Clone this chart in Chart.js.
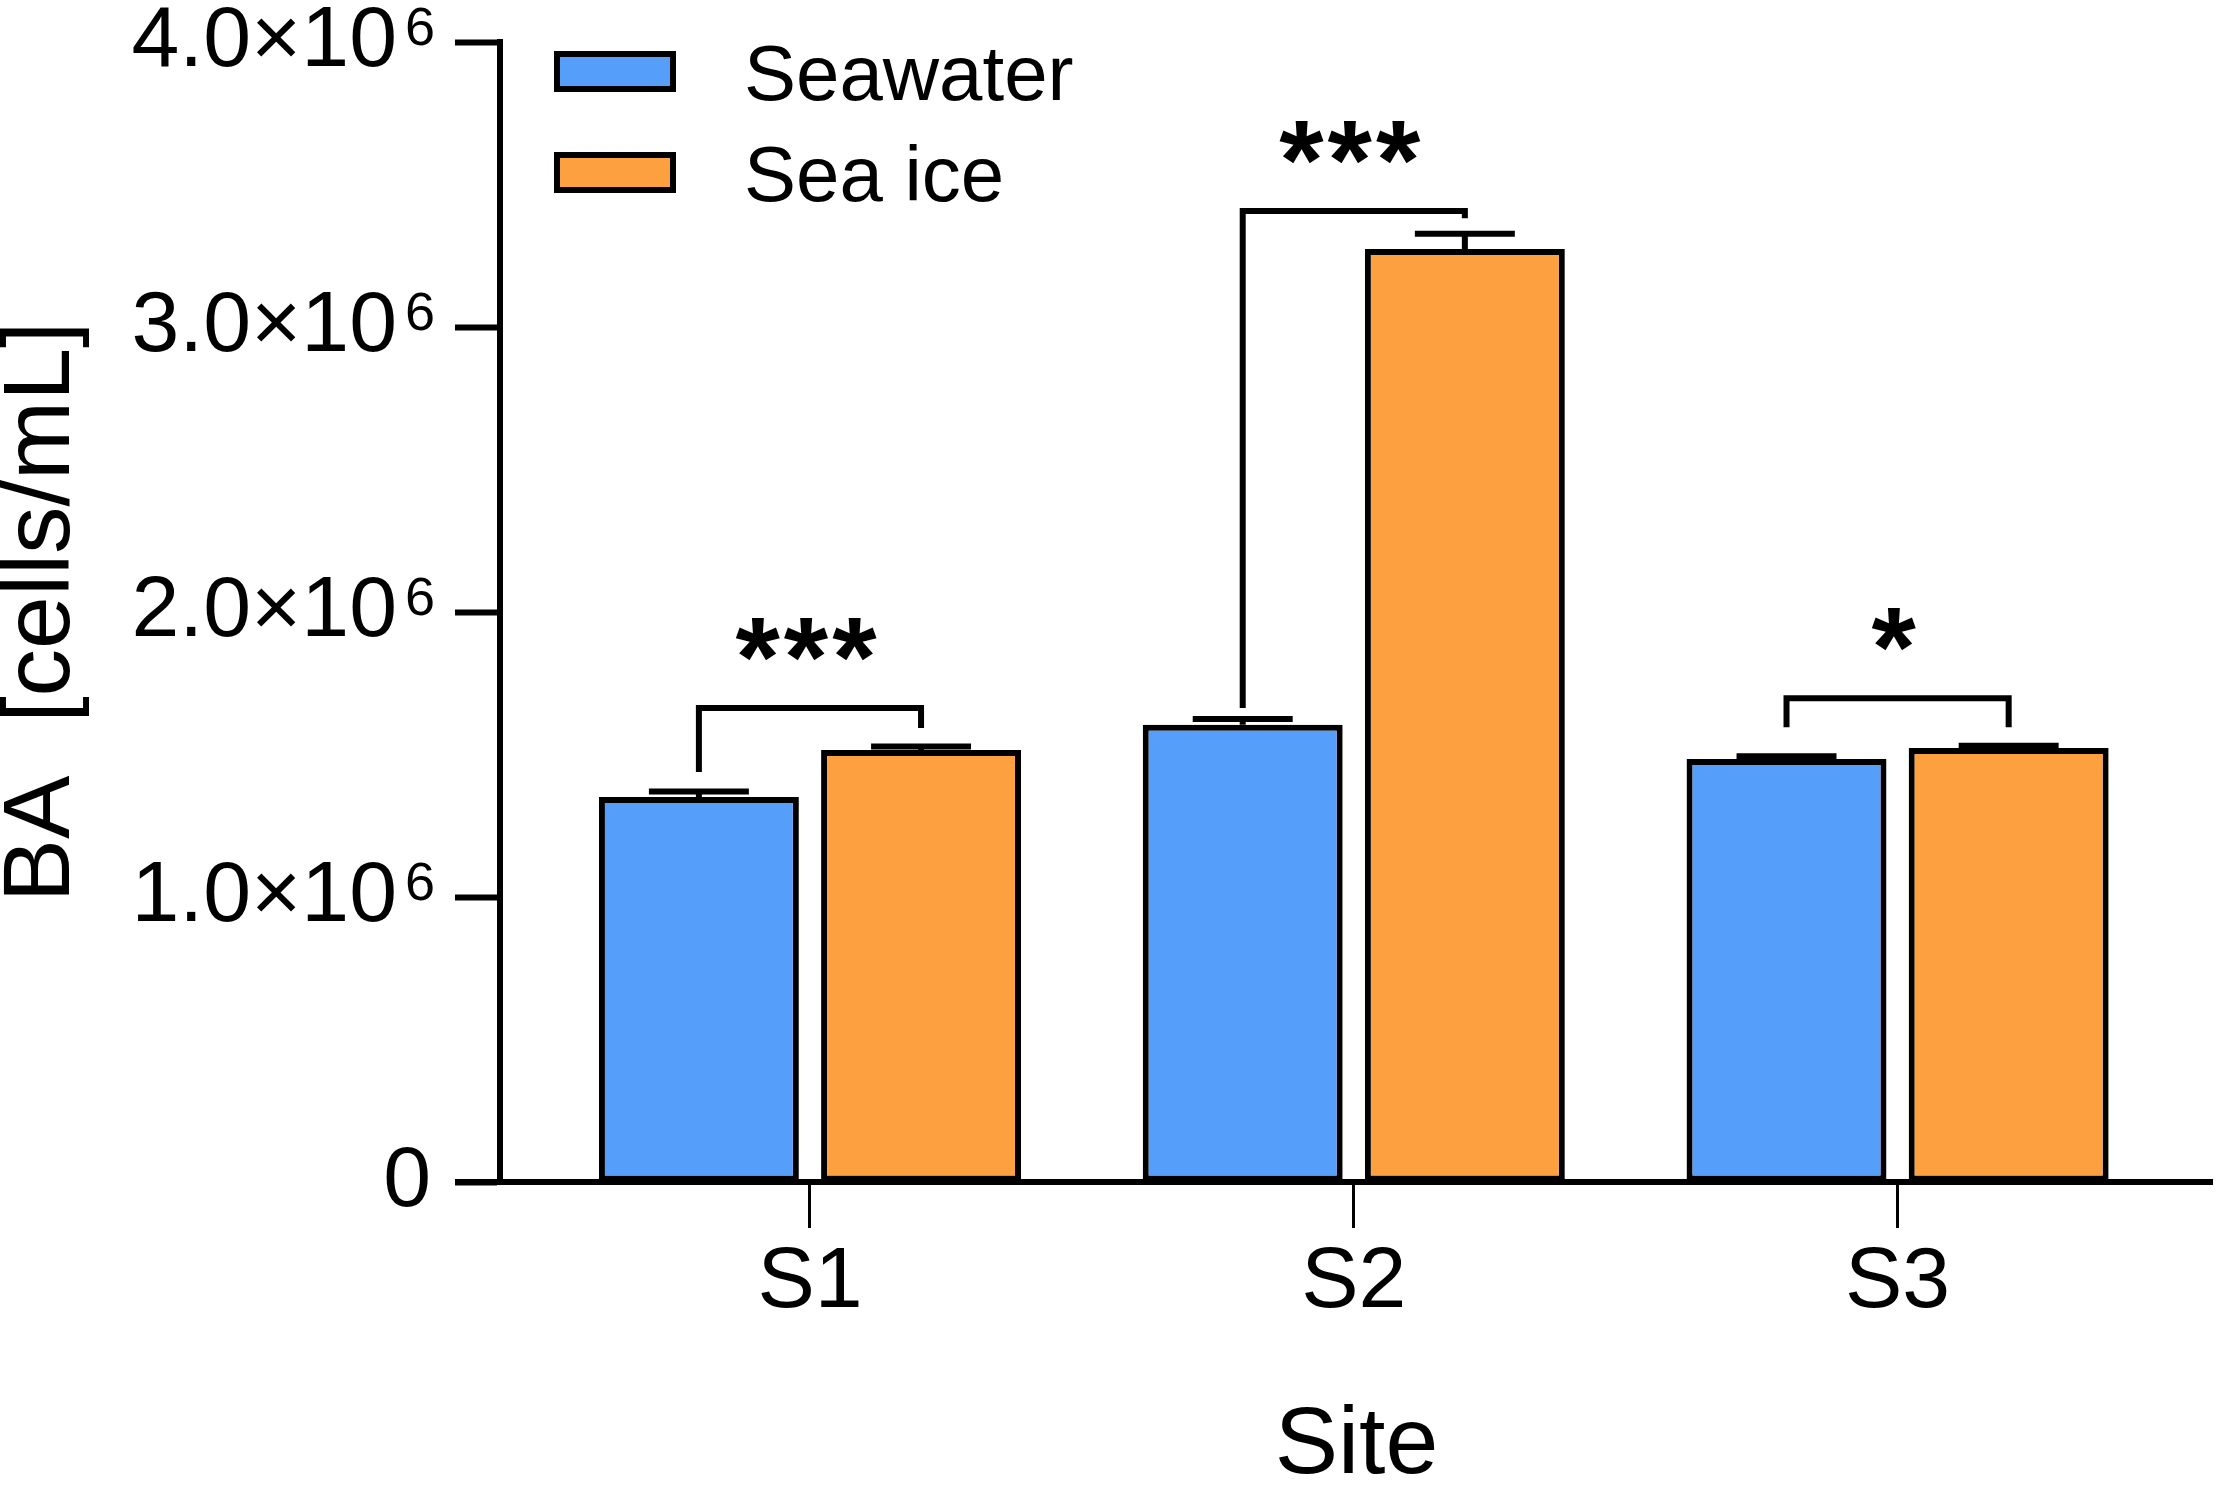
<!DOCTYPE html>
<html>
<head>
<meta charset="utf-8">
<script src="https://cdn.jsdelivr.net/npm/chart.js@4.4.1/dist/chart.umd.min.js"></script>
<style>
  html, body { margin: 0; padding: 0; background: #fff; }
  canvas { display: block; }
</style>
</head>
<body>
<canvas id="chart" width="2217" height="1490"></canvas>
<script>
// values (cells/mL)
const sites = ['S1', 'S2', 'S3'];
const seawater = [1.351e6, 1.604e6, 1.484e6];
const seawaterErr = [0.019e6, 0.021e6, 0.010e6];
const seaIce = [1.516e6, 3.274e6, 1.523e6];
const seaIceErr = [0.012e6, 0.053e6, 0.008e6];
const yTicks = [0, 1e6, 2e6, 3e6, 4e6];

// significance brackets, in data units
const bracketTop = [1.663e6, 3.407e6, 1.697e6];
const bracketLeftEnd = [1.439e6, 1.663e6, 1.596e6];
const bracketRightEnd = [1.593e6, 3.382e6, 1.596e6];
const stars = ['***', '***', '*'];
const starBottom = [1.828e6, 3.572e6, 1.863e6];

const FONT = '"Liberation Sans", Arial, sans-serif';
Chart.defaults.font.family = FONT;
Chart.defaults.color = '#000';

// error bars, brackets, stars, x axis line
const extras = {
  id: 'extras',
  afterDatasetsDraw(chart) {
    const c = chart.ctx;
    const y = chart.scales.y;
    const area = chart.chartArea;
    c.save();
    c.strokeStyle = '#000';
    c.lineWidth = 6;

    chart.data.datasets.forEach((ds, di) => {
      chart.getDatasetMeta(di).data.forEach((bar, i) => {
        const top = y.getPixelForValue(ds.data[i].y + ds.errors[i]);
        c.beginPath();
        c.moveTo(bar.x, bar.y);
        c.lineTo(bar.x, top);
        c.moveTo(bar.x - bar.width / 4, top);
        c.lineTo(bar.x + bar.width / 4, top);
        c.stroke();
      });
    });

    const left = chart.getDatasetMeta(0).data;
    const right = chart.getDatasetMeta(1).data;
    c.lineJoin = 'miter';
    sites.forEach((s, i) => {
      const xl = left[i].x, xr = right[i].x;
      const yt = y.getPixelForValue(bracketTop[i]);
      c.beginPath();
      c.moveTo(xl, y.getPixelForValue(bracketLeftEnd[i]));
      c.lineTo(xl, yt);
      c.lineTo(xr, yt);
      c.lineTo(xr, y.getPixelForValue(bracketRightEnd[i]));
      c.stroke();

      c.font = 'bold 114px ' + FONT;
      c.letterSpacing = '4px';
      c.textAlign = 'center';
      c.textBaseline = 'alphabetic';
      c.fillStyle = '#000';
      const m = c.measureText(stars[i]);
      c.fillText(stars[i], (xl + xr) / 2 - 2, y.getPixelForValue(starBottom[i]) - m.actualBoundingBoxDescent);
      c.letterSpacing = '0px';
    });

    // x axis runs a little past the y axis, as in the figure
    c.beginPath();
    c.moveTo(area.left - 45, area.bottom);
    c.lineTo(area.right, area.bottom);
    c.stroke();
    c.restore();
  },
  afterDraw(chart) {
    const c = chart.ctx;
    const y = chart.scales.y;
    const area = chart.chartArea;
    c.save();
    c.fillStyle = '#000';

    // y tick labels with superscript exponent
    const labelRight = area.left - 45 - 20;
    yTicks.forEach(v => {
      const py = y.getPixelForValue(v);
      c.textAlign = 'right';
      if (v === 0) {
        c.font = '86px ' + FONT;
        c.textBaseline = 'middle';
        c.fillText('0', labelRight - 4, py);
        return;
      }
      c.font = '54px ' + FONT;
      const supW = c.measureText('6').width;
      c.textBaseline = 'alphabetic';
      c.fillText('6', labelRight, py + 3);
      c.font = '86px ' + FONT;
      c.textBaseline = 'middle';
      c.fillText((v / 1e6).toFixed(1) + '×10', labelRight - supW - 8, py);
    });

    // legend, top-left inside the plot
    const lx = area.left + 54;
    chart.data.datasets.forEach((ds, i) => {
      const top = area.top + 9 + i * 101;
      c.fillStyle = ds.backgroundColor;
      c.fillRect(lx, top, 122, 41);
      c.lineWidth = 6;
      c.strokeStyle = '#000';
      c.strokeRect(lx + 3, top + 3, 116, 35);
      c.fillStyle = '#000';
      c.font = '78px ' + FONT;
      c.textAlign = 'left';
      c.textBaseline = 'alphabetic';
      c.fillText(ds.label, lx + 190, top + 49);
    });
    c.restore();
  }
};

const chart = new Chart(document.getElementById('chart'), {
  type: 'bar',
  data: {
    datasets: [
      {
        label: 'Seawater',
        data: sites.map((s, i) => ({ x: i + 1, y: seawater[i] })),
        errors: seawaterErr,
        backgroundColor: '#559ffa',
        borderColor: '#000',
        borderWidth: 6,
        borderSkipped: false
      },
      {
        label: 'Sea ice',
        data: sites.map((s, i) => ({ x: i + 1, y: seaIce[i] })),
        errors: seaIceErr,
        backgroundColor: '#fda040',
        borderColor: '#000',
        borderWidth: 6,
        borderSkipped: false
      }
    ]
  },
  options: {
    responsive: false,
    animation: false,
    categoryPercentage: 0.817,
    barPercentage: 0.9,
    layout: { padding: { left: 0, right: 4, top: 42, bottom: 0 } },
    plugins: {
      legend: { display: false },
      tooltip: { enabled: false }
    },
    scales: {
      x: {
        type: 'linear',
        min: 0.43,
        max: 3.58,
        bounds: 'data',
        offset: false,
        afterBuildTicks: s => { s.ticks = sites.map((_, i) => ({ value: i + 1 })); },
        afterFit: s => { s.height = 308; },
        ticks: {
          callback: v => sites[v - 1],
          font: { size: 86 },
          color: '#000',
          padding: 4,
          maxRotation: 0
        },
        grid: {
          display: true,
          offset: false,
          drawOnChartArea: false,
          drawTicks: true,
          tickLength: 46,
          tickWidth: 3,
          color: '#000',
          tickColor: '#000'
        },
        border: { display: false },
        title: {
          display: true,
          text: 'Site',
          font: { size: 95, lineHeight: 0.9 },
          color: '#000',
          padding: 0
        }
      },
      y: {
        min: 0,
        max: 4e6,
        afterBuildTicks: s => { s.ticks = yTicks.map(v => ({ value: v })); },
        afterFit: s => { s.width = 500; },
        ticks: { display: false },
        grid: {
          display: true,
          drawOnChartArea: false,
          drawTicks: true,
          tickLength: 45,
          tickWidth: 6,
          color: '#000',
          tickColor: '#000'
        },
        border: { display: true, color: '#000', width: 6 },
        title: {
          display: true,
          text: 'BA  [cells/mL]',
          font: { size: 95, lineHeight: 0.9 },
          color: '#000',
          padding: 0
        }
      }
    }
  },
  plugins: [extras]
});
</script>
</body>
</html>
